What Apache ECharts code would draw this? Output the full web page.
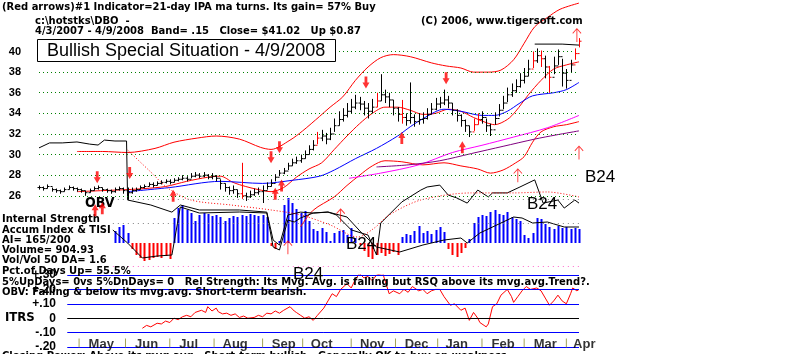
<!DOCTYPE html>
<html>
<head>
<meta charset="utf-8">
<script src="https://cdn.jsdelivr.net/npm/echarts@6/dist/echarts.min.js"></script>
<style>
  html, body { margin: 0; padding: 0; background: #fff; }
  #main { width: 800px; height: 354px; }
</style>
</head>
<body>
<div id="main"></div>
<script>
// DBO daily chart 4/3/2007 - 4/9/2008, x = trading day index (0 = 4/3/2007)
// price bars: one bar every 2 trading days
const BAR_STEP = 2;
const highs = [
  27.0, 26.9, 27.1, 26.8, 26.7, 26.6, 26.8, 27.0, 26.9, 26.8,
  26.7, 26.5, 26.7, 26.9, 27.0, 26.8, 26.7, 26.6, 26.8, 26.9,
  26.8, 26.8, 26.8, 26.8, 27.0, 27.1, 27.3, 27.3, 27.4, 27.5,
  27.6, 27.6, 27.7, 27.8, 28.0, 27.9, 28.2, 28.3, 28.2, 28.3,
  28.1, 28.2, 28.0, 27.6, 27.2, 26.9, 27.0, 26.6, 29.2, 26.3,
  26.5, 26.7, 26.8, 27.0, 27.3, 27.6, 28.1, 28.5, 28.7, 29.2,
  29.6, 29.8, 30.0, 30.4, 30.9, 31.4, 32.2, 32.4, 32.1, 32.6,
  33.5, 34.2, 34.5, 35.0, 35.4, 35.8, 35.6, 35.2, 35.0, 35.4,
  36.0, 37.8, 36.3, 36.0, 35.3, 34.6, 35.3, 34.0, 37.0, 33.9,
  34.0, 34.1, 34.5, 35.0, 35.5, 35.6, 36.3, 35.7, 35.0, 34.4,
  33.9, 33.4, 32.8, 33.5, 34.0, 34.2, 33.5, 33.0, 34.1, 34.9,
  35.7, 36.5, 36.9, 37.3, 37.9, 38.4, 39.2, 40.0, 40.3, 40.1,
  39.6, 38.6, 39.5, 40.2, 39.3, 38.3, 39.2, 40.3, 41.3
];
const lows = [
  26.6, 26.5, 26.7, 26.4, 26.3, 26.2, 26.4, 26.6, 26.5, 26.4,
  26.3, 26.0, 26.3, 26.5, 26.6, 26.4, 26.3, 26.2, 26.3, 26.5,
  26.2, 25.6, 26.2, 26.4, 26.6, 26.7, 26.9, 26.8, 27.0, 27.1,
  27.2, 27.1, 27.3, 27.4, 27.5, 27.4, 27.7, 27.8, 27.7, 27.8,
  27.6, 27.6, 27.4, 26.6, 26.4, 26.1, 26.2, 25.8, 25.7, 25.5,
  25.8, 26.0, 26.1, 25.3, 26.6, 26.9, 27.4, 27.9, 28.1, 28.5,
  28.9, 29.1, 29.2, 29.6, 30.0, 30.4, 31.0, 31.3, 31.0, 31.4,
  32.2, 32.8, 33.2, 33.6, 34.0, 34.4, 34.3, 33.8, 33.5, 34.0,
  34.6, 35.2, 35.0, 34.6, 33.8, 33.2, 33.0, 32.8, 33.0, 32.7,
  32.9, 33.0, 33.4, 33.9, 34.3, 34.5, 34.8, 34.5, 33.8, 33.2,
  32.7, 32.2, 31.7, 32.3, 32.9, 33.0, 32.2, 31.8, 32.9, 33.7,
  34.4, 35.1, 35.6, 36.0, 36.5, 36.9, 37.6, 38.4, 38.9, 38.5,
  37.4, 36.0, 37.8, 38.7, 36.6, 36.4, 38.0, 39.2, 40.4
];
const closes = [
  26.8, 26.7, 26.9, 26.6, 26.5, 26.4, 26.6, 26.8, 26.7, 26.6,
  26.5, 26.3, 26.5, 26.7, 26.8, 26.6, 26.5, 26.4, 26.6, 26.7,
  26.5, 26.3, 26.5, 26.6, 26.8, 26.9, 27.1, 27.0, 27.2, 27.3,
  27.4, 27.3, 27.5, 27.6, 27.7, 27.6, 27.9, 28.0, 27.9, 28.0,
  27.8, 27.9, 27.7, 27.2, 26.8, 26.5, 26.6, 26.2, 26.0, 25.9,
  26.1, 26.3, 26.4, 26.5, 26.9, 27.2, 27.8, 28.2, 28.4, 28.9,
  29.2, 29.4, 29.6, 30.0, 30.5, 30.9, 31.6, 31.8, 31.5, 32.0,
  32.8, 33.4, 33.8, 34.2, 34.6, 35.0, 34.9, 34.5, 34.2, 34.6,
  35.2, 35.8, 35.6, 35.3, 34.5, 33.9, 33.6, 33.3, 33.6, 33.2,
  33.4, 33.5, 33.9, 34.4, 34.9, 35.0, 35.3, 35.0, 34.3, 33.8,
  33.3, 32.8, 32.2, 32.9, 33.4, 33.6, 32.8, 32.4, 33.5, 34.3,
  35.0, 35.8, 36.2, 36.6, 37.2, 37.6, 38.3, 39.1, 39.6, 39.3,
  38.5, 37.5, 38.6, 39.5, 37.9, 37.2, 38.7, 39.8, 41.0
];
const redBars = [48, 66, 80, 86, 103, 104, 117, 119, 121, 127, 128];

// overlays, [day, price]
const upperBand = [[18,30.3],[30,30.3],[42,30.2],[55,30.6],[64,31.2],[75,31.6],[84,31.8],[95,31.5],[105,30.7],[110,30.5],[119,31.4],[125,32.3],[133,33.7],[138,34.6],[144,35.6],[150,37.2],[156,38.5],[162,39.4],[168,39.7],[176,39.5],[186,38.9],[193,38.6],[200,38.4],[206,38.0],[213,38.0],[219,38.2],[225,39.2],[230,40.8],[235,42.4],[241,43.3],[247,44.1],[256,44.7]];
const ma21 = [[18,26.4],[30,26.5],[42,26.6],[50,26.7],[60,26.9],[70,27.4],[80,27.8],[86,27.9],[92,27.3],[98,26.9],[104,26.6],[110,26.4],[116,26.8],[122,27.8],[128,28.6],[134,29.2],[140,30.5],[146,31.8],[152,33.0],[158,34.0],[164,34.6],[170,34.6],[176,34.3],[182,33.9],[188,34.0],[194,34.4],[200,34.2],[206,33.6],[212,33.1],[216,32.9],[222,33.4],[226,34.2],[232,35.8],[238,37.2],[244,38.3],[250,38.7],[256,39.0]];
const lowerBand = [[124,23.0],[130,24.6],[140,25.9],[146,27.0],[152,28.0],[158,28.9],[164,29.4],[172,29.3],[182,29.0],[192,29.2],[200,28.9],[208,28.6],[214,28.2],[220,28.5],[226,29.2],[230,29.8],[234,31.2],[238,32.2],[244,32.7],[250,32.9],[256,33.2]];
const ma50 = [[42,26.4],[62,26.8],[86,27.4],[106,27.2],[120,27.5],[133,27.9],[140,28.5],[150,29.6],[160,30.6],[170,31.8],[176,32.7],[183,33.6],[192,34.4],[200,34.2],[210,33.8],[216,33.8],[222,34.2],[228,35.0],[234,35.7],[244,36.0],[250,36.3],[256,37.0]];
const maMagenta = [[147,27.7],[162,28.2],[180,29.0],[196,30.2],[210,30.9],[225,31.7],[241,32.6],[256,33.8]];
const maPurple = [[160,28.8],[175,29.0],[190,29.4],[205,30.1],[220,30.8],[235,31.5],[245,31.9],[256,32.3]];
const resistance = [[235,40.72],[248,40.72],[248,40.55],[262,40.55]];

// signal arrows, [day, price]
const downArrows = [[27.6,27.8],[43,28.2],[110,29.75],[114,30.7],[155,37.0],[193,37.4]];
const upArrows = [[26.6,24.6],[30,24.8],[63.6,26.0],[112,26.2],[115,27.0],[172,31.6],[200.7,30.7]];
const thinUpArrows = [[227,28.0],[256,30.2],[143,24.1],[118,21.0],[255,41.6]];

// OBV (relative units) and its moving average
const obv = [[0,37.6],[5,39.7],[11,39.7],[18,40.1],[24,39.2],[28,38.8],[31,40.9],[36,40.5],[41.5,40.5],[42,15.6],[53,13.5],[63,10.5],[67,13.5],[76,11.4],[95,11.4],[108,10.5],[111,-1.3],[114,-3.4],[118,9.3],[124,10.5],[130,10.1],[137,10.5],[141,9.3],[148,3.0],[156,0.8],[160,-7.6],[162,5.9],[172,14.8],[181,19.8],[184,21.1],[190,21.9],[194,17.7],[198,16.5],[203,14.3],[208,19.8],[213,16.9],[215,18.6],[222,18.6],[228,21.1],[235,24.1],[239,14.3],[246,15.6],[249,12.2],[254,15.6],[256,14.3]];
const obvMa = [[42,36.7],[53,27.4],[61,20.7],[72,15.6],[91,13.5],[110,11.4],[124,9.3],[138,5.1],[151,0],[159,3.8],[166,9.3],[181,15.6],[205,18.6],[225,18.6],[241,19.0],[256,16.9]];

// accumulation index, one value every 2 trading days (null = not plotted)
const accumIndex = [
  null, null, null, null, null, null, null, null, null, null,
  null, null, null, null, null, null, null, null, 0.12, 0.16,
  0.18, 0.10, -0.06, -0.12, -0.15, -0.18, -0.17, -0.15, -0.14, -0.15,
  -0.13, -0.16, 0.25, 0.35, 0.38, 0.33, 0.30, 0.22, 0.28, 0.30,
  0.29, 0.27, 0.28, 0.26, 0.22, 0.25, 0.27, 0.26, 0.28, 0.27,
  0.29, 0.28, 0.27, 0.28, 0.26, -0.03, -0.06, 0.02, 0.38, 0.45,
  0.40, 0.34, 0.30, 0.32, 0.22, 0.14, 0.12, 0.15, 0.11, 0.02,
  0.10, 0.12, 0.13, 0.08, 0.15, 0.05, -0.02, -0.08, -0.14, -0.16,
  -0.12, -0.10, -0.13, -0.11, -0.09, -0.12, 0.06, 0.09, 0.08, 0.12,
  0.17, 0.10, 0.12, 0.09, 0.13, 0.16, 0.11, -0.06, -0.12, -0.14,
  -0.10, -0.05, 0.04, 0.20, 0.26, 0.28, 0.27, 0.31, 0.33, 0.29,
  0.28, 0.31, 0.26, 0.24, 0.22, 0.08, 0.05, 0.10, 0.25, 0.24,
  0.19, 0.16, 0.14, 0.17, 0.15, 0.16, 0.14, 0.15, 0.14
];
const tisi = [[35,0.13],[42,0.0],[49,-0.15],[56,-0.13],[63,-0.12],[67,0.36],[76,0.3],[95,0.31],[108,0.3],[111,-0.04],[114,-0.07],[118,0.23],[121,0.21],[124,0.25],[130,0.3],[137,0.31],[146,0.26],[153,0.1],[160,-0.04],[171,-0.09],[182,-0.02],[192,0.03],[200,0.05],[203,0.0],[209,0.1],[225,0.26],[229,0.25],[234,0.2],[241,0.21],[249,0.16],[256,0.16]];
const accumGuides = [0.44, 0.2, -0.23];

// ITRS
const itrs = [[49,-0.07],[51,-0.05],[53,-0.06],[56,-0.035],[58,-0.04],[60,-0.02],[62,-0.03],[64,0.0],[66,-0.01],[68,0.01],[70,0.02],[72,0.01],[74,0.04],[77,0.055],[79,0.04],[80,0.08],[82,0.05],[84,0.07],[85,0.045],[87,0.03],[89,0.035],[91,0.02],[93,0.03],[95,0.005],[97,0.015],[99,0.0],[102,0.005],[104,0.02],[106,0.01],[108,0.035],[110,0.03],[112,0.05],[114,0.035],[116,0.055],[119,0.08],[121,0.05],[122,0.04],[124,0.02],[126,0.0],[128,0.01],[130,-0.015],[132,0.02],[135,0.07],[137,0.12],[139,0.17],[141,0.15],[143,0.2],[146,0.24],[148,0.21],[150,0.27],[152,0.31],[154,0.28],[156,0.29],[158,0.26],[160,0.3],[163,0.31],[166,0.17],[168,0.19],[171,0.17],[173,0.2],[175,0.18],[177,0.22],[180,0.19],[182,0.2],[184,0.17],[186,0.19],[188,0.2],[190,0.2],[192,0.15],[195,0.09],[197,0.1],[200,0.055],[202,0.07],[204,-0.015],[206,0.04],[208,0.0],[209,-0.03],[211,-0.05],[212,-0.06],[213,-0.04],[215,0.08],[217,0.1],[219,0.16],[222,0.2],[224,0.15],[225,0.11],[227,0.15],[229,0.19],[231,0.22],[233,0.2],[236,0.21],[238,0.19],[240,0.14],[242,0.09],[244,0.12],[246,0.16],[248,0.12],[250,0.1],[252,0.17],[253,0.21],[255,0.19],[256,0.2]];
const itrsLevels = [0.3, 0.2, 0.1, 0, -0.1, -0.2];

// price ticks and months
const priceTicks = [26, 28, 30, 32, 34, 36, 38, 40];
const monthNames = ['May', 'Jun', 'Jul', 'Aug', 'Sep', 'Oct', 'Nov', 'Dec', 'Jan', 'Feb', 'Mar', 'Apr'];
const monthStarts = [19, 41, 62, 83, 106, 125, 148, 169, 189, 210, 230, 250];
const monthLabelDays = [29.5, 51, 71, 93, 116, 134, 158, 179, 198, 220, 240, 258.5];

const FONT = "'Liberation Sans Narrow', 'DejaVu Sans Condensed', Arial, sans-serif";
const chart = echarts.init(document.getElementById('main'));

function txt(text, left, top, extra) {
  return Object.assign({
    text: text, left: left, top: top, padding: 0,
    textStyle: { fontFamily: FONT, fontWeight: 'bold', fontSize: 11.1, color: '#000' }
  }, extra || {});
}
function big(text, left, top) {
  return { text: text, left: left, top: top, padding: 0, z: 20,
    textStyle: { fontFamily: 'Arial, sans-serif', fontWeight: 'normal', fontSize: 17, color: '#000' } };
}

const DOWN = 'path://M3,0 L7,0 L7,7 L10,7 L5,14 L0,7 L3,7 Z';
const UP = 'path://M5,0 L10,7 L7,7 L7,14 L3,14 L3,7 L0,7 Z';
const THIN_UP = 'path://M5,0 L10,5 L9.3,5.7 L5.5,1.8 L5.5,14 L4.5,14 L4.5,1.8 L0.7,5.7 L0,5 Z';

const option = {
  animation: false,
  backgroundColor: '#fff',
  title: [
    txt('(Red arrows)#1 Indicator=21-day IPA ma turns. Its gain= 57% Buy', 2, 2),
    txt('c:\\hotstks\\DBO  -', 35, 16),
    txt('4/3/2007 - 4/9/2008  Band= .15   Close= $41.02   Up $0.87', 35, 26),
    txt('(C) 2006, www.tigersoft.com', 421, 16),
    { text: 'Bullish Special Situation - 4/9/2008', left: 37, top: 39, z: 10,
      padding: [3, 11, 2, 10], borderWidth: 1, borderColor: '#000', backgroundColor: '#fff',
      textStyle: { fontFamily: 'Arial, sans-serif', fontWeight: 'normal', fontSize: 18, color: '#000' } },
    txt('OBV', 85, 196, { textStyle: { fontFamily: FONT, fontWeight: 'bold', fontSize: 14, color: '#000' } }),
    big('B24', 585, 169), big('B24', 527, 196), big('B24', 346, 236), big('B24', 293, 266),
    txt('Internal Strength', 2, 214),
    txt('Accum Index & TISI', 2, 225),
    txt('AI= 165/200', 2, 235),
    txt('Volume= 904.93', 2, 245),
    txt('Vol/Vol 50 DA= 1.6', 2, 255),
    txt('Pct.of Days Up= 55.5%', 2, 266),
    txt('5%UpDays= 0vs 5%DnDays= 0   Rel Strength: Its Mvg. Avg. is falling but RSQ above its mvg.avg.Trend?.', 2, 277),
    txt('OBV: Falling & below its mvg.avg. Short-term bearish.', 2, 287),
    txt('ITRS', 5, 311, { textStyle: { fontFamily: FONT, fontWeight: 'bold', fontSize: 13, color: '#000' } }),
    txt('Closing Power: Above its mvg.avg.  Short-term bullish.  Generally OK to buy on weakness.', 2, 351)
  ],
  grid: [
    { left: 39, top: 0, width: 540, height: 237 },
    { left: 39, top: 193, width: 540, height: 80 },
    { left: 39, top: 275, width: 540, height: 72 }
  ],
  xAxis: [0, 1, 2].map(i => ({
    type: 'value', gridIndex: i, min: 0, max: 256, show: false
  })),
  yAxis: [
    { type: 'value', gridIndex: 0, min: 22, max: 45, interval: 1,
      axisLine: { show: false }, axisTick: { show: false }, splitLine: { show: false },
      axisLabel: { margin: 18, fontFamily: 'Arial, sans-serif', fontWeight: 'bold', fontSize: 11, color: '#000',
        formatter: v => priceTicks.includes(v) ? String(v) : '' } },
    { type: 'value', gridIndex: 0, min: 0, max: 100, show: false },
    { type: 'value', gridIndex: 1, min: -0.3, max: 0.5, show: false },
    { type: 'value', gridIndex: 2, min: -0.2, max: 0.3, interval: 0.1, offset: -18,
      axisLine: { show: false }, axisTick: { show: false }, splitLine: { show: false },
      axisLabel: { margin: 1, fontFamily: 'Arial, sans-serif', fontWeight: 'bold', fontSize: 12, color: '#000',
        formatter: v => {
          const r = Math.round(v * 100);
          if (r === 0) return '0';
          return (r > 0 ? '+' : '-') + '.' + String(Math.abs(r)).padStart(2, '0');
        } } }
  ],
  series: [
    // bands and moving averages; dotted price gridlines hang on the first one
    { type: 'line', xAxisIndex: 0, yAxisIndex: 0, data: upperBand, smooth: 0.3, symbol: 'none',
      lineStyle: { color: '#ff0000', width: 1 }, z: 3,
      markLine: { silent: true, symbol: 'none', label: { show: false },
        lineStyle: { color: '#008000', type: [1, 3], width: 1 },
        data: priceTicks.map(v => ({ yAxis: v })) } },
    { type: 'line', xAxisIndex: 0, yAxisIndex: 0, data: ma21, smooth: 0.3, symbol: 'none',
      lineStyle: { color: '#ff0000', width: 1 }, z: 3 },
    { type: 'line', xAxisIndex: 0, yAxisIndex: 0, data: lowerBand, smooth: 0.3, symbol: 'none',
      lineStyle: { color: '#ff0000', width: 1 }, z: 3 },
    { type: 'line', xAxisIndex: 0, yAxisIndex: 0, data: ma50, smooth: 0.3, symbol: 'none',
      lineStyle: { color: '#0000ff', width: 1 }, z: 3 },
    { type: 'line', xAxisIndex: 0, yAxisIndex: 0, data: maMagenta, smooth: 0.3, symbol: 'none',
      lineStyle: { color: '#ff00ff', width: 1 }, z: 3 },
    { type: 'line', xAxisIndex: 0, yAxisIndex: 0, data: maPurple, smooth: 0.3, symbol: 'none',
      lineStyle: { color: '#800080', width: 1 }, z: 3 },
    { type: 'line', xAxisIndex: 0, yAxisIndex: 0, data: resistance, symbol: 'none', clip: false,
      lineStyle: { color: '#000', width: 1 }, z: 4 },
    // OBV
    { type: 'line', xAxisIndex: 0, yAxisIndex: 1, data: obv, symbol: 'none', clip: false,
      lineStyle: { color: '#000', width: 1 }, z: 3 },
    { type: 'line', xAxisIndex: 0, yAxisIndex: 1, data: obvMa, smooth: 0.3, symbol: 'none', clip: false,
      lineStyle: { color: '#ff0000', width: 1, type: [1, 2] }, z: 3 },
    // price bars
    { type: 'custom', xAxisIndex: 0, yAxisIndex: 0, z: 5,
      data: closes.map((c, i) => [i * BAR_STEP, highs[i], lows[i], i ? closes[i - 1] : c, c, redBars.includes(i) ? 1 : 0]),
      encode: { x: 0, y: [1, 2] },
      renderItem: function (params, api) {
        const d = api.value(0);
        const hi = api.coord([d, api.value(1)]);
        const lo = api.coord([d, api.value(2)]);
        const op = api.coord([d, api.value(3)]);
        const cl = api.coord([d, api.value(4)]);
        const color = api.value(5) ? '#ff0000' : '#000000';
        const x = Math.round(hi[0]) + 0.5;
        const st = { stroke: color, lineWidth: 1 };
        return { type: 'group', children: [
          { type: 'line', shape: { x1: x, y1: hi[1], x2: x, y2: lo[1] }, style: st },
          { type: 'line', shape: { x1: x - 2, y1: op[1], x2: x, y2: op[1] }, style: st },
          { type: 'line', shape: { x1: x, y1: cl[1], x2: x + 2, y2: cl[1] }, style: st }
        ] };
      } },
    // arrows
    { type: 'scatter', xAxisIndex: 0, yAxisIndex: 0, data: downArrows, symbol: DOWN, symbolSize: [7, 12],
      itemStyle: { color: '#ff0000' }, clip: false, z: 6 },
    { type: 'scatter', xAxisIndex: 0, yAxisIndex: 0, data: upArrows, symbol: UP, symbolSize: [7, 12],
      itemStyle: { color: '#ff0000' }, clip: false, z: 6 },
    { type: 'scatter', xAxisIndex: 0, yAxisIndex: 0, data: thinUpArrows, symbol: THIN_UP, symbolSize: [9, 14],
      itemStyle: { color: '#ff0000' }, clip: false, z: 6 },
    // accumulation index
    { type: 'custom', xAxisIndex: 1, yAxisIndex: 2, z: 2,
      data: accumIndex.map((v, i) => [i * BAR_STEP, v]).filter(p => p[1] !== null),
      encode: { x: 0, y: 1 },
      renderItem: function (params, api) {
        const d = api.value(0);
        const v = api.value(1);
        const p = api.coord([d, v]);
        const b = api.coord([d, 0]);
        const x = Math.round(p[0]) + 0.5;
        return { type: 'line', shape: { x1: x, y1: b[1], x2: x, y2: p[1] },
          style: { stroke: v >= 0 ? '#0000ff' : '#ff0000', lineWidth: 2 } };
      } },
    { type: 'line', xAxisIndex: 1, yAxisIndex: 2, data: tisi, symbol: 'none',
      lineStyle: { color: '#000', width: 1 }, z: 3,
      markLine: { silent: true, symbol: 'none', label: { show: false },
        data: accumGuides.map(v => [
          { coord: [35, v], lineStyle: { color: v < 0 ? '#ff66cc' : '#808080', type: [1, 4], width: 1 } },
          { coord: [256, v] }
        ]) } },
    // ITRS
    { type: 'line', xAxisIndex: 2, yAxisIndex: 3, data: itrs, symbol: 'none',
      lineStyle: { color: '#ff0000', width: 1 }, z: 4,
      markLine: { silent: true, symbol: 'none', label: { show: false },
        data: itrsLevels.map(v => [
          { coord: [13.4, v], lineStyle: { color: v === 0 ? '#000' : '#0000ff', type: 'solid', width: 1 } },
          { coord: [256, v] }
        ]) } },
    // month ticks and labels
    { type: 'scatter', xAxisIndex: 2, yAxisIndex: 3, data: monthStarts.map(d => [d, -0.2]),
      symbol: 'rect', symbolSize: [1, 9], symbolOffset: [0, -4], itemStyle: { color: '#8a8a2a' }, z: 5 },
    { type: 'scatter', xAxisIndex: 2, yAxisIndex: 3, clip: false, z: 6,
      data: monthLabelDays.map((d, i) => ({ value: [d, -0.2], name: monthNames[i] })),
      symbolSize: 0,
      label: { show: true, position: 'inside', offset: [0, -3], formatter: p => p.name,
        fontFamily: 'Arial, sans-serif', fontWeight: 'bold', fontSize: 13, color: '#000' } }
  ]
};

chart.setOption(option);
</script>
</body>
</html>
